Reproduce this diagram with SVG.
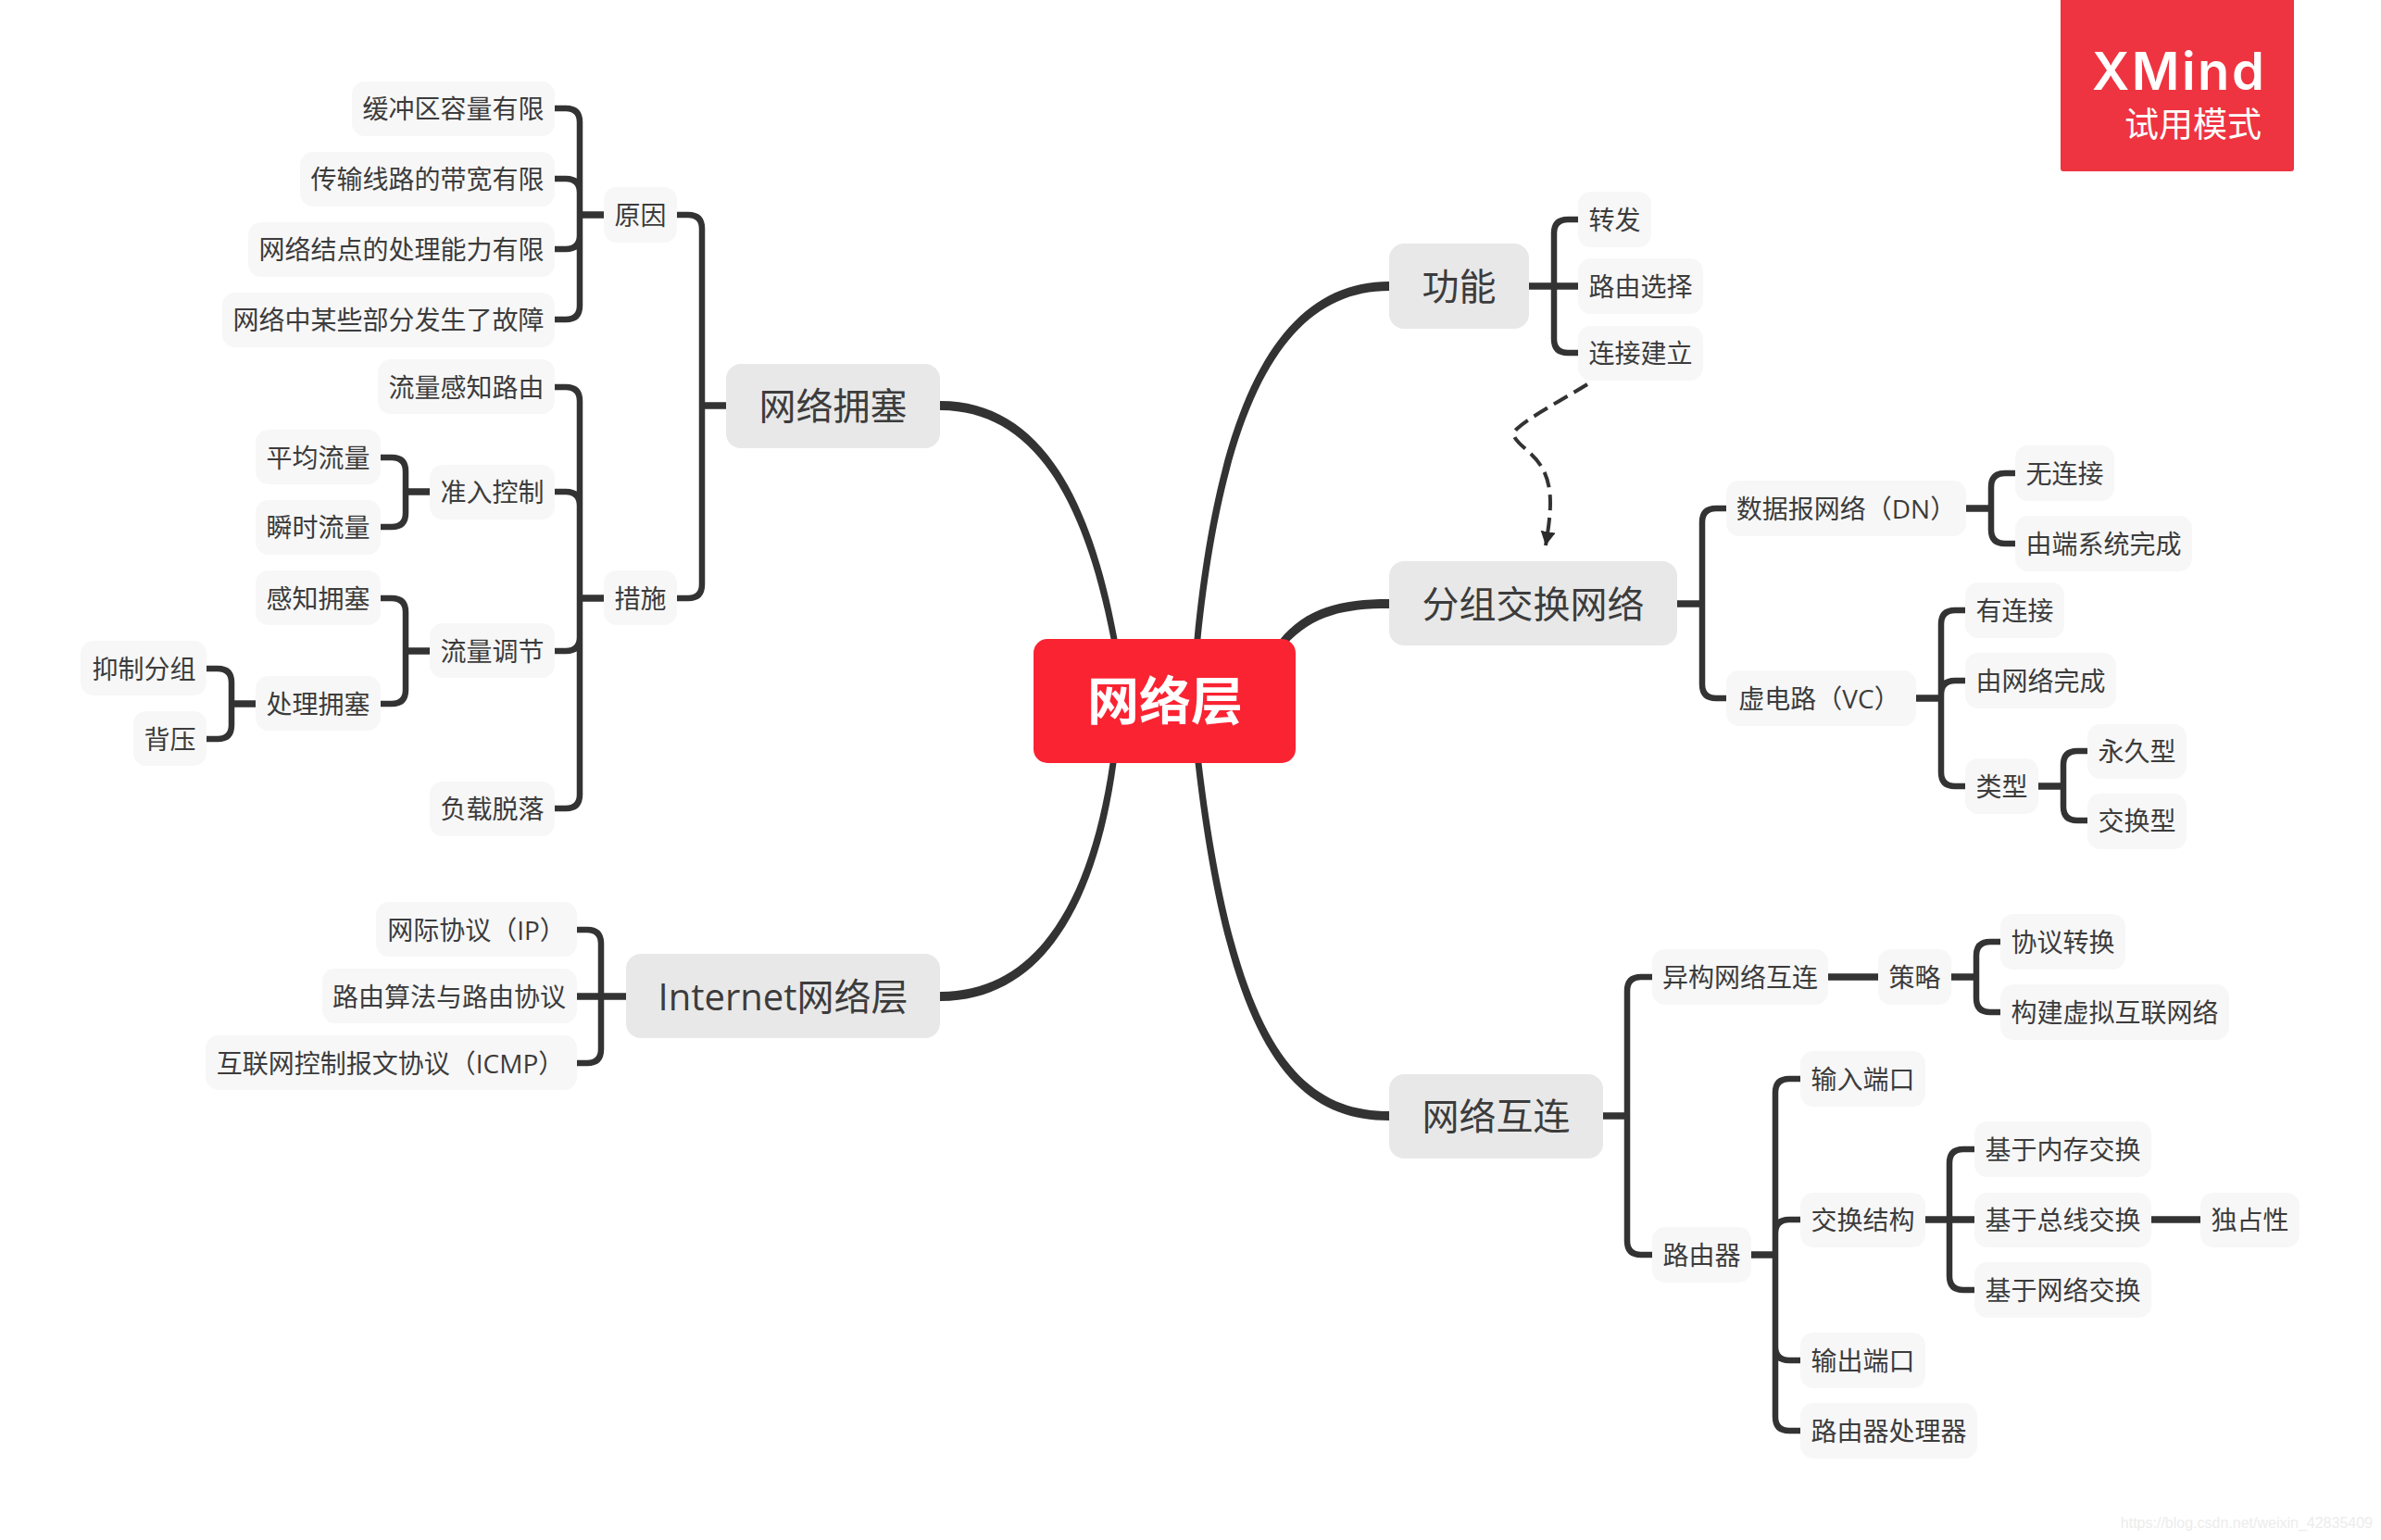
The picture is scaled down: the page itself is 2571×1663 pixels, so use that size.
<svg xmlns="http://www.w3.org/2000/svg" width="2571" height="1663" viewBox="0 0 2571 1663">
<style>
text{font-family:"Open Sans","Noto Sans CJK SC",sans-serif;text-anchor:middle;fill:#3c3c3c}
.s rect{fill:#f7f7f7}
.s text{font-size:28px;transform:translateY(-0.7px)}
.m rect{fill:#e8e8e8}
.m text{font-size:40px;transform:translateY(-0.7px)}
.l{fill:none;stroke:#333;stroke-width:6.500}
.t{fill:none;stroke:#333;stroke-width:7.500}
.c{fill:#333;stroke:none}
.d{fill:none;stroke:#333;stroke-width:4;stroke-dasharray:17 8}
</style>
<defs><marker id="arrow" markerUnits="userSpaceOnUse" markerWidth="18" markerHeight="18" refX="15" refY="8" orient="auto"><path d="M0 0L15 8L0 16Z" fill="#2b2b2b"/></marker></defs>
<rect width="2571" height="1663" fill="#fff"/>
<g id="connectors">
<path class="c" d="M1500 304C1388 304 1316 418 1289.500 690L1296.500 690C1324 424 1392 314 1500 314Z"/>
<path class="c" d="M1015 433C1113 433 1175 518 1206.500 690L1199.500 690C1167 522 1107 443 1015 443Z"/>
<path class="c" d="M1500 647C1448 647 1410 656 1381 692L1388 697C1418 664 1452 657 1500 657Z"/>
<path class="c" d="M1500 1210C1397 1210 1326 1132 1290.500 824L1297.500 824C1334 1128 1403 1200 1500 1200Z"/>
<path class="c" d="M1015 1071C1117 1071 1176 978 1198.500 824L1205.500 824C1184 982 1123 1081 1015 1081Z"/>
<path class="d" marker-end="url(#arrow)" d="M1714 415C1690 430 1655 448 1638 463Q1633 468 1636 473C1645 488 1674 495 1674 543Q1674 560 1669 589"/>
<path class="t" d="M1651 309H1704M1811 652H1838M2123 549H2150M2069 754H2096M2201 849H2228M1731 1205H1757M1974 1055H2028M2107 1055H2134M1891 1355H1917M2079 1317H2132M2323 1317H2376M652 232H626M652 646H626M784 438H758M464 531H438M464 703H438M276 760H250M676 1076H623"/>
<g class="l">
<path d="M1704 237H1693Q1678 237 1678 252V366Q1678 381 1693 381H1704"/>
<path d="M1864 549H1853Q1838 549 1838 564V739Q1838 754 1853 754H1864"/>
<path d="M2176 511H2165Q2150 511 2150 526V572Q2150 587 2165 587H2176"/>
<path d="M2122 659H2111Q2096 659 2096 674V834Q2096 849 2111 849H2122M2122 735H2111Q2096 735 2096 750"/>
<path d="M2254 811H2243Q2228 811 2228 826V871Q2228 886 2243 886H2254"/>
<path d="M1784 1055H1772Q1757 1055 1757 1070V1340Q1757 1355 1772 1355H1784"/>
<path d="M2160 1017H2149Q2134 1017 2134 1032V1078Q2134 1093 2149 1093H2160"/>
<path d="M1944 1165H1932Q1917 1165 1917 1180V1530Q1917 1545 1932 1545H1944M1944 1317H1932Q1917 1317 1917 1332M1944 1469H1932Q1917 1469 1917 1454"/>
<path d="M2132 1241H2120Q2105 1241 2105 1256V1378Q2105 1393 2120 1393H2132"/>
<path d="M599 117H611Q626 117 626 132V330Q626 345 611 345H599M599 193H611Q626 193 626 208M599 269H611Q626 269 626 254"/>
<path d="M599 418H611Q626 418 626 433V858Q626 873 611 873H599M599 531H611Q626 531 626 546M599 703H611Q626 703 626 688"/>
<path d="M731 232H743Q758 232 758 247V631Q758 646 743 646H731"/>
<path d="M411 494H423Q438 494 438 509V554Q438 569 423 569H411"/>
<path d="M411 646H423Q438 646 438 661V745Q438 760 423 760H411"/>
<path d="M223 722H235Q250 722 250 737V783Q250 798 235 798H223"/>
<path d="M623 1004H634Q649 1004 649 1019V1133Q649 1148 634 1148H623"/>
</g>
</g>
<g id="center"><rect x="1116" y="690" width="283" height="134" rx="15" fill="#fa2332"/><text x="1258" y="777" style="font-size:56px;font-weight:700;fill:#fff">网络层</text></g>
<g id="n-gongneng" class="m"><rect x="1500" y="263" width="151" height="92" rx="16"/><text x="1575.500" y="325">功能</text></g>
<g id="n-fenzu" class="m"><rect x="1500" y="606" width="311" height="91" rx="16"/><text x="1655.500" y="668">分组交换网络</text></g>
<g id="n-hulian" class="m"><rect x="1500" y="1160" width="231" height="91" rx="16"/><text x="1615.500" y="1221">网络互连</text></g>
<g id="n-yongse" class="m"><rect x="784" y="393" width="231" height="91" rx="16"/><text x="899.500" y="454">网络拥塞</text></g>
<g id="n-internet" class="m"><rect x="676" y="1030" width="339" height="91" rx="16"/><text x="845.500" y="1092">Internet网络层</text></g>
<g id="n1" class="s"><rect x="1704" y="207" width="79" height="60" rx="14"/><text x="1743.500" y="249">转发</text></g>
<g id="n2" class="s"><rect x="1704" y="279" width="135" height="60" rx="14"/><text x="1771.500" y="321">路由选择</text></g>
<g id="n3" class="s"><rect x="1704" y="352" width="135" height="59" rx="14"/><text x="1771.500" y="393">连接建立</text></g>
<g id="n4" class="s"><rect x="1864" y="519" width="259" height="60" rx="14"/><text x="1993.500" y="561">数据报网络（DN）</text></g>
<g id="n5" class="s"><rect x="2176" y="481" width="107" height="60" rx="14"/><text x="2229.500" y="523">无连接</text></g>
<g id="n6" class="s"><rect x="2176" y="557" width="191" height="60" rx="14"/><text x="2271.500" y="599">由端系统完成</text></g>
<g id="n7" class="s"><rect x="1864" y="724" width="205" height="60" rx="14"/><text x="1964.500" y="766">虚电路（VC）</text></g>
<g id="n8" class="s"><rect x="2122" y="629" width="107" height="60" rx="14"/><text x="2175.500" y="671">有连接</text></g>
<g id="n9" class="s"><rect x="2122" y="705" width="163" height="60" rx="14"/><text x="2203.500" y="747">由网络完成</text></g>
<g id="n10" class="s"><rect x="2122" y="819" width="79" height="60" rx="14"/><text x="2161.500" y="861">类型</text></g>
<g id="n11" class="s"><rect x="2254" y="782" width="107" height="59" rx="14"/><text x="2307.500" y="823">永久型</text></g>
<g id="n12" class="s"><rect x="2254" y="857" width="107" height="60" rx="14"/><text x="2307.500" y="898">交换型</text></g>
<g id="n13" class="s"><rect x="1784" y="1025" width="190" height="60" rx="14"/><text x="1879" y="1067">异构网络互连</text></g>
<g id="n14" class="s"><rect x="2028" y="1025" width="79" height="60" rx="14"/><text x="2067.500" y="1067">策略</text></g>
<g id="n15" class="s"><rect x="2160" y="987" width="135" height="60" rx="14"/><text x="2227.500" y="1029">协议转换</text></g>
<g id="n16" class="s"><rect x="2160" y="1063" width="247" height="60" rx="14"/><text x="2283.500" y="1105">构建虚拟互联网络</text></g>
<g id="n17" class="s"><rect x="1784" y="1325" width="107" height="60" rx="14"/><text x="1837.500" y="1367">路由器</text></g>
<g id="n18" class="s"><rect x="1944" y="1135" width="135" height="60" rx="14"/><text x="2011.500" y="1177">输入端口</text></g>
<g id="n19" class="s"><rect x="1944" y="1288" width="135" height="59" rx="14"/><text x="2011.500" y="1329">交换结构</text></g>
<g id="n20" class="s"><rect x="2132" y="1211" width="191" height="60" rx="14"/><text x="2227.500" y="1253">基于内存交换</text></g>
<g id="n21" class="s"><rect x="2132" y="1288" width="191" height="59" rx="14"/><text x="2227.500" y="1329">基于总线交换</text></g>
<g id="n22" class="s"><rect x="2132" y="1363" width="191" height="60" rx="14"/><text x="2227.500" y="1405">基于网络交换</text></g>
<g id="n23" class="s"><rect x="2376" y="1288" width="107" height="59" rx="14"/><text x="2429.500" y="1329">独占性</text></g>
<g id="n24" class="s"><rect x="1944" y="1439" width="135" height="60" rx="14"/><text x="2011.500" y="1481">输出端口</text></g>
<g id="n25" class="s"><rect x="1944" y="1515" width="191" height="60" rx="14"/><text x="2039.500" y="1557">路由器处理器</text></g>
<g id="n26" class="s"><rect x="380" y="88" width="219" height="59" rx="14"/><text x="489.500" y="129">缓冲区容量有限</text></g>
<g id="n27" class="s"><rect x="324" y="164" width="275" height="59" rx="14"/><text x="461.500" y="205">传输线路的带宽有限</text></g>
<g id="n28" class="s"><rect x="268" y="240" width="331" height="59" rx="14"/><text x="433.500" y="281">网络结点的处理能力有限</text></g>
<g id="n29" class="s"><rect x="240" y="316" width="359" height="59" rx="14"/><text x="419.500" y="357">网络中某些部分发生了故障</text></g>
<g id="n30" class="s"><rect x="652" y="202" width="79" height="60" rx="14"/><text x="691.500" y="244">原因</text></g>
<g id="n31" class="s"><rect x="408" y="388" width="191" height="59" rx="14"/><text x="503.500" y="430">流量感知路由</text></g>
<g id="n32" class="s"><rect x="464" y="502" width="135" height="59" rx="14"/><text x="531.500" y="543">准入控制</text></g>
<g id="n33" class="s"><rect x="276" y="464" width="135" height="59" rx="14"/><text x="343.500" y="506">平均流量</text></g>
<g id="n34" class="s"><rect x="276" y="540" width="135" height="59" rx="14"/><text x="343.500" y="581">瞬时流量</text></g>
<g id="n35" class="s"><rect x="276" y="616" width="135" height="59" rx="14"/><text x="343.500" y="658">感知拥塞</text></g>
<g id="n36" class="s"><rect x="464" y="673" width="135" height="59" rx="14"/><text x="531.500" y="715">流量调节</text></g>
<g id="n37" class="s"><rect x="276" y="730" width="135" height="59" rx="14"/><text x="343.500" y="772">处理拥塞</text></g>
<g id="n38" class="s"><rect x="87" y="692" width="136" height="59" rx="14"/><text x="155.500" y="734">抑制分组</text></g>
<g id="n39" class="s"><rect x="144" y="768" width="79" height="59" rx="14"/><text x="183.500" y="810">背压</text></g>
<g id="n40" class="s"><rect x="464" y="844" width="135" height="59" rx="14"/><text x="531.500" y="885">负载脱落</text></g>
<g id="n41" class="s"><rect x="652" y="616" width="79" height="59" rx="14"/><text x="691.500" y="658">措施</text></g>
<g id="n42" class="s"><rect x="406" y="974" width="217" height="59" rx="14"/><text x="514.500" y="1016">网际协议（IP）</text></g>
<g id="n43" class="s"><rect x="348" y="1046" width="275" height="59" rx="14"/><text x="485" y="1088">路由算法与路由协议</text></g>
<g id="n44" class="s"><rect x="222" y="1118" width="401" height="59" rx="14"/><text x="421.500" y="1160">互联网控制报文协议（ICMP）</text></g>
<g id="badge"><rect x="2225" y="-4" width="252" height="189" rx="3" fill="#ee3440"/><text x="2259" y="97" style="font-family:Inter,sans-serif;font-size:56px;font-weight:600;letter-spacing:2.500px;fill:#fff;text-anchor:start">XMind</text><text x="2442" y="148" style="font-size:37px;fill:#fff;text-anchor:end">试用模式</text></g>
<text x="2562" y="1650" style="font-family:'Liberation Sans',sans-serif;font-size:16px;fill:#ececec;text-anchor:end">https://blog.csdn.net/weixin_42835409</text>
</svg>
